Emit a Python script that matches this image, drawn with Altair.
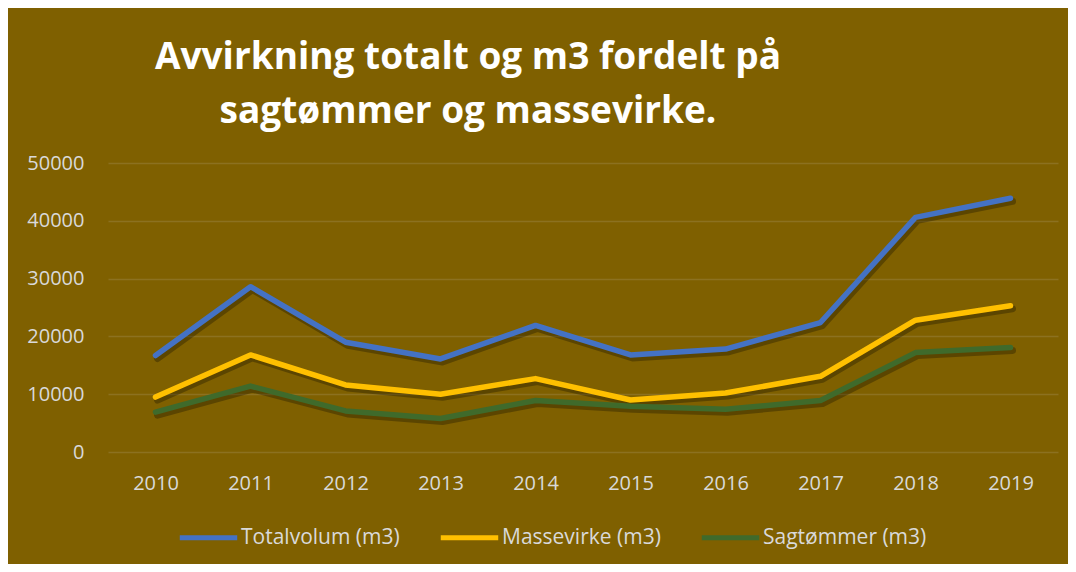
import altair as alt
import pandas as pd

years = ["2010", "2011", "2012", "2013", "2014", "2015", "2016", "2017", "2018", "2019"]
totalvolum = [16700, 28600, 19000, 16100, 21900, 16800, 17800, 22400, 40600, 43900]
massevirke = [9500, 16800, 11600, 10000, 12700, 9000, 10200, 13100, 22800, 25300]
sagtommer = [6900, 11400, 7100, 5800, 8900, 7900, 7400, 8900, 17200, 18100]

series_names = ["Totalvolum (m3)", "Massevirke (m3)", "Sagtømmer (m3)"]
series_colors = ["#4472C4", "#FFC000", "#3F6A2B"]
title_lines = ["Avvirkning totalt og m3 fordelt på", "sagtømmer og massevirke."]

rows = []
for name, vals in zip(series_names, [totalvolum, massevirke, sagtommer]):
    for y, v in zip(years, vals):
        rows.append({"År": y, "Verdi": v, "Serie": name})
df = pd.DataFrame(rows)

FONT = "Open Sans"
LABEL = "#D9D9D9"

x = alt.X("År:O", title=None,
          axis=alt.Axis(labelAngle=0, labelFont=FONT, labelFontSize=20, labelColor=LABEL,
                        labelPadding=21, ticks=False, domain=False, grid=False))
y = alt.Y("Verdi:Q", title=None,
          scale=alt.Scale(domain=[0, 50000]),
          axis=alt.Axis(values=[0, 10000, 20000, 30000, 40000, 50000], format="d",
                        labelFont=FONT, labelFontSize=20, labelColor=LABEL,
                        labelPadding=24, ticks=False, domain=False,
                        gridColor="#D9D9D9", gridOpacity=0.15, gridWidth=1.5))

shadow = alt.Chart(df).mark_line(
    color="black", opacity=0.28, strokeWidth=7, xOffset=2, yOffset=3,
    strokeCap="round", strokeJoin="round"
).encode(x=x, y=y, detail="Serie:N")

lines = alt.Chart(df).mark_line(
    strokeWidth=5.5, strokeCap="round", strokeJoin="round"
).encode(
    x=x, y=y,
    color=alt.Color("Serie:N",
                    scale=alt.Scale(domain=series_names, range=series_colors),
                    sort=series_names,
                    legend=alt.Legend(title=None, orient="none", legendX=69, legendY=343,
                                      direction="horizontal", symbolType="stroke",
                                      symbolStrokeWidth=5, symbolSize=3300,
                                      labelFont=FONT, labelFontSize=21, labelColor=LABEL,
                                      labelOffset=1, columnPadding=30, labelLimit=400)),
)

chart = alt.layer(shadow, lines).properties(
    width=950, height=289,
    background="#7F6000",
    padding={"left": 100, "top": 155, "right": 10, "bottom": 112},
    autosize=alt.AutoSizeParams(type="none"),
    title=alt.TitleParams(text=title_lines, font=FONT, fontSize=37, fontWeight="bold",
                          color="#FFFFFF", anchor="middle", dx=-115, offset=22,
                          lineHeight=54),
).configure_view(stroke=None)

chart.save("out.html", embed_options={"renderer": "svg", "actions": False})
